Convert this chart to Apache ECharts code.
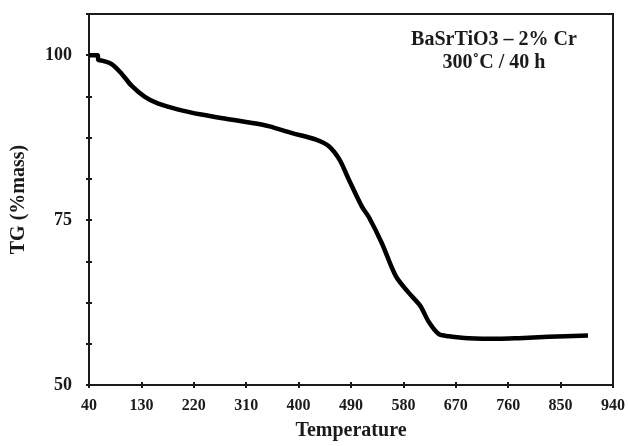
<!DOCTYPE html>
<html>
<head>
<meta charset="utf-8">
<script src="https://cdn.jsdelivr.net/npm/echarts@6/dist/echarts.min.js"></script>
<style>
  html, body { margin: 0; padding: 0; background: #fff; }
  #main { width: 628px; height: 446px; }
</style>
</head>
<body>
<div id="main"></div>
<script>
// values
var temps = [40, 55, 56, 64, 79, 96, 113, 136, 158, 192, 233, 273, 336, 350, 389, 430, 452, 470, 487, 509, 521, 543, 567, 589, 609, 624, 641, 658, 692, 743, 778, 829, 897];
var tgMass = [100.0, 100.0, 99.3, 99.15, 98.65, 97.2, 95.4, 93.7, 92.7, 91.8, 91.0, 90.4, 89.5, 89.2, 88.2, 87.2, 86.2, 84.2, 81.0, 77.0, 75.4, 71.5, 66.5, 64.0, 62.0, 59.5, 57.7, 57.4, 57.1, 57.0, 57.1, 57.3, 57.5];
var yLabels = [50, 75, 100];
var noteLines = ['BaSrTiO3 \u2013 2% Cr', '300\u02DAC / 40 h'];

var font = 'Liberation Serif';
var ink = '#1a1a1a';

var points = temps.map(function (t, i) { return [t, tgMass[i]]; });

var chart = echarts.init(document.getElementById('main'));

var xBase = {
  type: 'value', min: 40, max: 940, interval: 90,
  axisLine: { show: true, lineStyle: { color: ink, width: 2 } },
  splitLine: { show: false }
};
var yBase = {
  type: 'value', min: 50, max: 106.25, interval: 6.25,
  axisLine: { show: true, lineStyle: { color: ink, width: 2 } },
  splitLine: { show: false }
};

chart.setOption({
  animation: false,
  backgroundColor: '#fff',
  grid: {
    left: 89, right: 11, top: 14, bottom: 56,
    show: true, borderColor: ink, borderWidth: 2
  },
  xAxis: [
    Object.assign({}, xBase, {
      name: 'Temperature',
      nameLocation: 'middle',
      nameGap: 36,
      nameTextStyle: { fontFamily: font, fontWeight: 'bold', fontSize: 20, color: ink },
      axisTick: { show: true, inside: true, length: 3, lineStyle: { color: ink, width: 2 } },
      axisLabel: { margin: 13, fontFamily: font, fontWeight: 'bold', fontSize: 16, color: ink }
    }),
    Object.assign({}, xBase, {
      position: 'bottom',
      axisTick: { show: true, inside: false, length: 3, lineStyle: { color: ink, width: 2 } },
      axisLabel: { show: false }
    })
  ],
  yAxis: [
    Object.assign({}, yBase, {
      name: 'TG (%mass)',
      nameLocation: 'middle',
      nameGap: 60,
      nameTextStyle: { fontFamily: font, fontWeight: 'bold', fontSize: 20, color: ink },
      axisTick: { show: true, inside: true, length: 3, lineStyle: { color: ink, width: 2 } },
      axisLabel: {
        margin: 17, fontFamily: font, fontWeight: 'bold', fontSize: 18, color: ink,
        padding: [0, 0, 9, 0],
        formatter: function (v) { return yLabels.indexOf(v) >= 0 ? String(v) : ''; }
      }
    }),
    Object.assign({}, yBase, {
      position: 'left',
      axisTick: { show: true, inside: false, length: 3, lineStyle: { color: ink, width: 2 } },
      axisLabel: { show: false }
    })
  ],
  graphic: noteLines.map(function (line, i) {
    return {
      type: 'text',
      x: 494, y: 40 + i * 23,
      style: {
        text: line,
        align: 'center',
        verticalAlign: 'middle',
        font: 'bold 20px "' + font + '"',
        fill: ink
      }
    };
  }),
  series: [{
    type: 'line',
    data: points,
    showSymbol: false,
    smooth: 0.3,
    lineStyle: { color: '#000', width: 4.5 }
  }]
});
</script>
</body>
</html>
